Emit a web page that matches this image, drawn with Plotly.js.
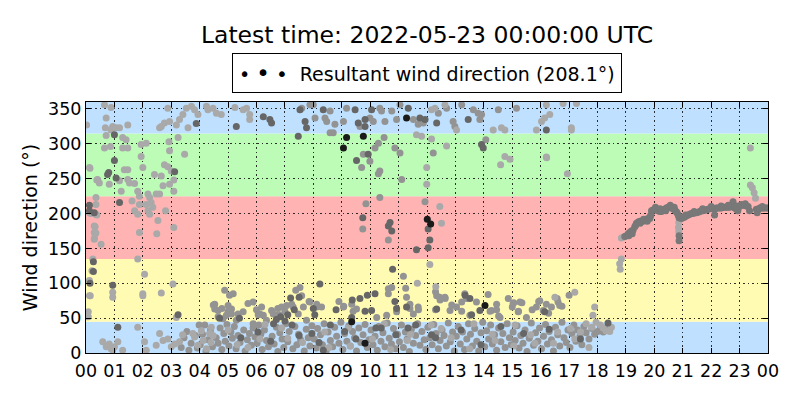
<!DOCTYPE html>
<html>
<head>
<meta charset="utf-8">
<script src="https://cdn.plot.ly/plotly-3.0.1.min.js"></script>
<style>html,body{margin:0;padding:0;background:#fff;}</style>
</head>
<body>
<div id="chart" style="width:800px;height:400px;"></div>
<script>
// ---------- data ----------
const hourTicks = [0,1,2,3,4,5,6,7,8,9,10,11,12,13,14,15,16,17,18,19,20,21,22,23,24];
const hourLabels = ['00','01','02','03','04','05','06','07','08','09','10','11','12','13','14','15','16','17','18','19','20','21','22','23','00'];
const dirTicks = [0,50,100,150,200,250,300,350];
const sectorEdges = [0,45,135,225,315,360];
const resultantDir = 208.1;
const latestTime = '2022-05-23 00:00:00 UTC';

// [hour of day, direction in degrees]
const lightPts = [
[0.65,356],[0.88,352],[0.71,337],[0.68,323],[0.94,325],[0.88,320],[0.02,327],
[0.65,294],[0.86,296],[0.71,312],[0.82,242],[0.47,244],[0.41,249],[0.35,223],[0.12,266],[0.14,265],[0.38,248],
[0.35,213],[0.35,199],[0.29,182],[0.29,173],[0.29,163],[0.53,156],[0.12,201],[0.38,198],[0.32,181],[0.35,172],[0.3,165],[0.17,200],
[0.24,135],[0.21,118],[0.12,104],[0.12,82],[0.15,82],[0.08,59],[0.08,52],[0.94,87],[0.94,80],[1.82,135],[2.06,113],[2.0,85],[2.0,82],[2.65,86],[3.06,99],[3.18,51],
[0.59,16],[0.82,13],[0.88,6],[0.71,9],[1.12,16],[1.29,4],[0.94,4],[1.0,9],
[1.47,327],[1.06,323],[1.18,323],[1.29,309],[1.41,306],[1.29,294],[1.47,294],[1.35,263],[1.47,263],[1.18,247],[1.24,232],[1.47,249],[1.53,244],[1.71,243],[1.82,232],[1.62,218],[1.94,282],[1.94,299],[2.12,301],[2.0,266],[1.88,225],[1.71,204],[1.88,213],[1.82,199],[1.88,173],
[2.18,228],[2.24,223],[2.12,213],[2.29,216],[2.18,204],[2.24,199],[2.35,209],[2.47,228],[2.59,228],[2.41,256],[2.65,254],[2.53,190],[2.49,171],[2.8,204],[2.76,270],[2.88,267],[2.71,240],[2.94,242],[2.92,303],[2.94,290],[3.0,261],[3.09,248],[3.09,232],[3.09,180],[3.47,285],[3.24,309],
[2.59,323],[2.65,325],[2.76,330],[2.94,332],[3.18,327],[3.29,335],[3.41,342],[3.53,351],[3.71,354],[3.82,349],[3.94,342],[3.59,323],[2.88,351],[4.24,354],[4.29,349],[4.47,351],[4.59,344],[4.76,342],[5.24,352],[5.53,349],[5.65,351],[5.76,342],[5.76,335],
[1.82,37],[2.06,16],[2.12,4],[2.59,28],[2.71,18],[2.88,20],[3.0,9],[3.12,13],[3.29,16],[2.47,11],
[3.76,28],[3.82,23],[3.94,11],[4.06,32],[4.12,18],[4.24,6],[4.35,28],[4.41,37],[4.47,25],
[3.4,26],[4.4,15],[5.0,33],[5.7,8],[6.3,41],[7.1,21],[8.4,30],[9.3,10],[10.5,42],[11.3,18],[12.5,35],[13.5,6],[14.3,27],[15.1,40],[15.8,14],[16.6,30],[17.2,20],[17.8,37],[18.2,36],[18.3,32],[17.6,42],[17.4,30],
[5.32,12],[6.12,20],[6.88,36],[7.62,15],[8.55,8],[9.22,36],[10.08,20],[10.72,5],[11.42,27],[12.15,40],[12.85,22],[13.65,42],[14.4,18],[15.05,10],[15.65,26],[16.45,14],[17.05,35],[17.7,8],
[11.63,313],[11.81,311],[12.16,307],[12.69,297],[11.99,266],[11.99,242],[14.74,282],[14.92,278],[14.59,270],[16.21,280],
[12.16,349],[12.28,351],[12.63,356],[14.33,320],[14.62,323],[14.74,320],[15.85,320],[16.03,332],[13.04,320],
[12.1,127],[11.66,100],[12.31,95],[12.45,210],[12.51,186],
[16.2,356],[16.32,342],[16.14,337],[17.08,323],[17.08,320],[16.79,358],[17.26,358],[16.2,281],[16.94,257],[23.38,294],
[16.5,80],[17.2,87],[17.9,66],[17.84,54],[18.49,37],[18.43,31],[17.95,44],[18.1,40],
[18.8,120],[18.78,128],[18.84,135],[18.84,165],[18.9,166],[23.38,241],[23.45,237],[23.51,230],[23.56,222],[20.86,174],[20.85,180],[20.86,187]
];

const midPts = [
[8.0,356],[8.06,337],[8.41,337],[8.47,332],[8.59,347],[8.76,328],[8.7,316],[9.06,332],[9.17,351],[9.64,325],[9.99,337],[10.11,332],[10.34,351],[10.4,347],[10.52,332],[10.76,347],[10.93,335],[11.05,356],[11.52,335],[11.69,328],[11.87,330],[12.4,344],[12.69,351],[12.92,332],[12.98,325],[13.22,356],[13.63,349],[13.8,344],[13.86,335],[13.92,342],[14.51,349],[15.15,351],[7.59,351],[7.88,356],[8.59,316],
[9.76,285],[10.17,294],[10.29,301],[10.49,309],[9.99,275],[9.7,266],[10.34,261],[10.29,257],[10.87,294],[11.05,287],[11.11,249],[12.22,287],[14.07,306],
[9.85,214],[9.74,178],[10.34,223],[10.64,162],[11.93,217],[11.17,110],
[4.53,70],[4.65,61],[4.53,63],[4.65,52],[4.88,90],[5.0,68],[5.12,63],[5.18,85],[4.82,49],[4.94,54],[5.12,56],[5.29,47],[5.35,56],[5.53,59],[5.88,73],[5.88,42],[6.12,56],[6.18,66],[6.24,54],[6.35,47],[6.53,61],[6.59,56],[6.71,54],[6.88,66],[7.06,68],[7.24,70],[7.29,66],[7.53,94],[7.59,82],[7.47,56],[7.65,66],[7.76,47],[7.88,73],[8.12,66],
[4.48,69],[4.78,64],[5.05,83],[5.7,71],[5.0,60],[6.0,62],[6.06,55],[6.75,64],[6.8,55],[7.0,60],[7.38,90],[7.85,74],[8.9,74],[9.07,67],[9.4,60],
[8.12,70],[8.29,66],[9.06,66],[9.35,70],[9.52,63],[10.23,51],[10.58,54],[10.93,59],[11.4,70],[11.52,56],[11.69,66],[12.63,80],[12.81,61],[13.04,66],[13.22,73],[13.51,54],[14.27,61],[14.57,51],[15.0,66],[15.21,59],[15.5,51],[15.85,66],[16.09,61],
[10.64,85],[11.28,80],[11.4,64],[11.7,62],[12.3,88],[12.46,76],[12.64,78],[12.3,62],[12.87,69],[13.22,60],[14.22,60],[14.45,62],[14.52,53],[15.05,72],[15.34,72],[15.22,60],[15.7,62],[15.93,74],[16.28,57],[16.58,78],[16.75,67],[17.0,83],
[10.64,92],[10.76,94],[11.25,93],[12.34,82],[12.45,80],[13.33,85],[13.39,78],[13.74,73],[14.15,84],[14.45,70],[15.03,71],[15.27,73],[15.97,75],[14.86,78],
[16.2,70],[16.61,73],[16.67,68],[16.38,66],
[3.35,8],[3.45,22],[3.55,31],[3.62,4],[3.7,14],[3.85,25],[3.92,7],[3.98,40],
[4.02,12],[4.1,27],[4.18,40],[4.22,3],[4.3,19],[4.38,33],[4.45,9],[4.58,22],[4.65,14],[4.72,36],[4.78,5],[4.85,28],[4.9,17],[4.96,41],
[5.03,10],[5.1,30],[5.15,21],[5.22,38],[5.28,6],[5.35,25],[5.42,15],[5.55,33],[5.6,3],[5.68,19],[5.75,28],[5.82,11],[5.88,36],[5.95,23],
[6.02,14],[6.08,40],[6.15,27],[6.2,5],[6.28,33],[6.35,18],[6.42,9],[6.55,24],[6.62,13],[6.7,37],[6.75,2],[6.82,29],[6.9,20],[6.96,8],
[7.03,42],[7.1,16],[7.15,31],[7.28,6],[7.35,38],[7.42,12],[7.48,27],[7.55,19],[7.68,3],[7.75,34],[7.82,22],[7.88,10],[7.95,39],
[8.03,20],[8.1,7],[8.15,35],[8.25,26],[8.32,12],[8.38,42],[8.45,3],[8.52,30],[8.6,18],[8.68,9],[8.75,37],[8.82,24],[8.9,14],[8.97,44],
[9.04,5],[9.1,28],[9.18,17],[9.25,39],[9.3,10],[9.38,31],[9.45,22],[9.52,3],[9.6,36],[9.67,15],[9.75,26],[9.82,41],[9.9,8],[9.96,19],
[10.03,33],[10.1,12],[10.17,24],[10.25,4],[10.3,38],[10.38,17],[10.45,29],[10.52,9],[10.6,43],[10.67,21],[10.75,13],[10.82,35],[10.9,6],[10.96,27],
[11.03,16],[11.1,40],[11.17,8],[11.24,30],[11.3,20],[11.38,2],[11.45,34],[11.52,14],[11.6,25],[11.67,42],[11.75,11],[11.82,31],[11.9,19],[11.96,5],
[12.03,37],[12.1,22],[12.18,12],[12.24,41],[12.32,28],[12.4,6],[12.46,18],[12.53,33],[12.6,25],[12.68,10],[12.75,43],[12.82,16],[12.9,30],[12.96,3],
[13.03,24],[13.1,38],[13.17,13],[13.25,30],[13.32,5],[13.4,20],[13.46,42],[13.53,27],[13.6,10],[13.68,35],[13.75,17],[13.82,3],[13.9,29],[13.96,44],
[14.03,9],[14.1,32],[14.17,20],[14.24,40],[14.3,13],[14.38,26],[14.45,4],[14.52,36],[14.6,16],[14.67,28],[14.75,8],[14.82,42],[14.9,22],[14.96,12],
[15.03,30],[15.1,18],[15.17,39],[15.24,7],[15.3,25],[15.38,14],[15.45,33],[15.52,2],[15.6,21],[15.67,43],[15.75,11],[15.82,29],[15.9,17],[15.96,36],
[16.03,6],[16.1,24],[16.17,41],[16.24,13],[16.3,31],[16.38,19],[16.45,3],[16.52,37],[16.6,26],[16.67,10],[16.75,44],[16.82,22],[16.9,15],[16.96,33],
[17.03,8],[17.1,28],[17.17,40],[17.24,17],[17.3,33],[17.38,24],[17.45,12],[17.52,38],[17.6,29],[17.7,20],[17.8,35],[17.9,27],[18.0,31],[18.1,38],[18.2,30],[18.3,36],[18.38,33]
];

const darkPts = [
[1.0,313],[1.0,276],[0.8,259],[0.76,256],[0.29,201],[0.12,212],[0.12,204],[0.26,131],[0.26,117],[0.14,100],[0.94,97],[3.24,55],[1.12,37],[1.06,251],[1.18,216],[3.12,260],[3.88,329],[5.29,325],[6.24,339],[6.47,335],[6.53,330],[7.47,311],[7.53,349],[7.71,332],[7.76,323],
[8.35,349],[9.47,349],[9.58,330],[9.82,325],[9.82,335],[10.05,349],[11.34,351],[11.75,337],[11.93,335],[12.34,330],[13.45,335],[16.2,320],
[9.93,285],[9.52,276],[13.92,299],[13.98,294],
[9.74,194],[10.7,187],[10.64,182],[10.76,175],[12.04,178],[12.1,162],[12.04,151],[11.63,148],
[10.79,120],[8.23,99],[10.17,85],[9.35,51],[9.64,78],[10.05,61],[11.28,66],[12.34,63],[13.86,61],[16.14,59],[18.37,43],
[7.2,79],[7.5,80],[7.33,62],[8.0,64],[8.05,55],[8.8,62],[9.37,76],[9.9,83],[9.82,60],[5.4,50],[4.7,50],[10.87,74],[10.93,64],[13.34,83],[13.51,78],[13.57,55],
[8.35,4],[12.16,26],[11.33,36],[10.39,36],[6.7,48],[6.85,52],[7.0,46],[7.1,55],[6.6,42],[7.25,40],[5.45,22],[6.05,30],[6.5,17],[7.5,25],[7.95,28],[8.2,15],[8.6,40],[9.1,31],[9.5,20],[10.2,36],[10.9,26],[11.6,40],[12.3,22],[13.2,33],[13.9,12],[14.6,38],[15.4,28],[16.3,34],[17.4,20]
];

const blackPts = [
[9.17,309],[9.06,294],[9.76,311],[11.28,337],[12.01,192],[12.13,185],[14.04,68],[9.82,14],[9.35,45]
];

const eveningPts = [
[18.96,167],[19.02,168],[19.08,171],[19.13,173],[19.19,175],[19.25,176],[19.31,181],[19.37,186],[19.43,188],[19.49,189],[19.55,189],[19.6,189],[19.66,191],[19.72,192],[19.78,193],[19.84,193],[19.88,198],[19.9,204],[19.95,205],[20.01,206],[20.07,205],[20.13,204],[20.19,203],[20.25,203],[20.3,205],[20.36,206],[20.42,208],[20.48,209],[20.54,209],[20.6,208],[20.66,207],[20.72,205],[20.77,203],[20.8,201],[20.84,198],[20.87,194],[20.87,168],[20.87,161],
[19.1,168],[19.22,171],[19.34,183],[19.5,186],[19.62,192],[19.75,189],[19.86,196],[20.04,209],[20.2,207],[20.4,204],[20.56,212],[20.7,209],
[20.95,193],[21.01,194],[21.07,195],[21.13,197],[21.19,198],[21.25,199],[21.3,200],[21.36,200],[21.42,201],[21.48,201],[21.54,202],[21.6,203],[21.65,204],[21.71,204],[21.77,205],[21.83,205],[21.89,206],[21.95,207],[22.01,208],[22.06,207],[22.12,198],[22.12,206],[22.18,208],[22.24,208],[22.3,208],[22.36,208],[22.42,209],[22.47,209],[22.53,209],[22.59,209],[22.65,209],[22.71,210],[22.77,217],[22.8,210],[22.83,208],[22.89,206],[22.94,204],[23.0,210],[23.06,213],[23.12,212],[23.18,212],[23.24,211],[23.3,210],[23.35,204],[23.59,206],[23.62,201],[23.66,206],[23.71,208],[23.77,208],[23.82,208],[23.88,208],[23.94,208],[24.0,208],
[21.1,198],[21.4,203],[21.7,207],[22.0,210],[22.35,211],[22.6,212],[22.9,211],[23.2,214],[23.8,210]
];

// ---------- styles ----------
const FONT = 'DejaVu Sans, Liberation Sans, sans-serif';
const sectorColors = ['#bfe1ff','#fffbb3','#ffb3b3','#bcfcb6','#bfe1ff'];

function pointTrace(pts, color) {
  return {
    type: 'scatter', mode: 'markers',
    x: pts.map(p => p[0]), y: pts.map(p => p[1]),
    marker: {size: 7, color: color, line: {width: 0}},
    showlegend: false, hoverinfo: 'skip'
  };
}

const traces = [
  pointTrace(midPts, '#939393'),
  pointTrace(lightPts, '#a9a9a9'),
  pointTrace(eveningPts, '#787878'),
  pointTrace(darkPts, '#666666'),
  pointTrace(blackPts, '#1a1a1a')
];

const shapes = [];
for (let i = 0; i < sectorEdges.length - 1; i++) {
  shapes.push({type:'rect', xref:'paper', yref:'y', x0:0, x1:1, y0:sectorEdges[i], y1:sectorEdges[i+1],
    fillcolor: sectorColors[i], line:{width:0}, layer:'below'});
}

const axisCommon = {
  showline: true, linecolor: '#000', linewidth: 1, mirror: 'allticks',
  ticks: 'inside', ticklen: 5, tickcolor: '#000', tickwidth: 1,
  showgrid: true, gridcolor: '#000', gridwidth: 0.8, griddash: '1.5px,3px',
  zeroline: false, automargin: false,
  tickfont: {family: FONT, size: 17.5, color: '#000'}
};

const layout = {
  width: 800, height: 400,
  margin: {l: 86, r: 32, t: 102, b: 47, pad: 0},
  paper_bgcolor: '#fff', plot_bgcolor: '#fff',
  title: {text: 'Latest time: ' + latestTime, font: {family: FONT, size: 23.5, color: '#000'},
          xref: 'paper', x: 0.5, xanchor: 'center', yref: 'container', y: 0.913, yanchor: 'middle'},
  xaxis: Object.assign({}, axisCommon, {range: [0, 24], tickmode: 'array', tickvals: hourTicks, ticktext: hourLabels, ticklabelstandoff: 2}),
  yaxis: Object.assign({}, axisCommon, {range: [0, 360], tickmode: 'array', tickvals: dirTicks,
          title: {text: 'Wind direction (°)', font: {family: FONT, size: 19, color: '#000'}, standoff: 5}}),
  shapes: shapes,
  annotations: [{
    xref: 'paper', yref: 'paper', x: 0.5, y: 1 + (102 - 73) / 251, xanchor: 'center', yanchor: 'middle',
    showarrow: false, bgcolor: '#fff', bordercolor: '#000', borderwidth: 1, borderpad: 6,
    font: {family: FONT, size: 19, color: '#000'},
    text: '<span style="font-size:19px">•</span> <span style="font-size:23px">•</span> <span style="font-size:20px">•</span>  Resultant wind direction (' + resultantDir + '°)'
  }]
};

Plotly.newPlot('chart', traces, layout, {displayModeBar: false, staticPlot: true});
</script>
</body>
</html>
